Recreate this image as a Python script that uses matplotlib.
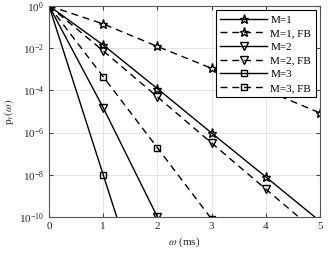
import numpy as np
import matplotlib
matplotlib.use("Agg")
import matplotlib.pyplot as plt

plt.rcParams['font.family'] = ['Liberation Serif', 'DejaVu Serif']
plt.rcParams['mathtext.fontset'] = 'stix'

# values (log-scale y)
x_m1 = [0, 1, 2, 3, 4, 5]
m1 = [1.0, 1.4e-2, 1.2e-4, 9.5e-7, 7.9e-9, 6.3e-11]
x_m1fb = [0, 1, 2, 3, 4, 5]
m1fb = [1.0, 1.4e-1, 1.2e-2, 1.1e-3, 1.0e-4, 8.5e-6]
x_m2 = [0, 1, 2]
m2 = [1.0, 1.5e-5, 1.0e-10]
x_m2fb = [0, 1, 2, 3, 4, 5]
m2fb = [1.0, 7.4e-3, 4.9e-5, 3.2e-7, 2.1e-9, 1.4e-11]
x_m3 = [0, 1, 2]
m3 = [1.0, 1.0e-8, 1.0e-16]
x_m3fb = [0, 1, 2, 3]
m3fb = [1.0, 4.4e-4, 1.9e-7, 8.0e-11]

labels = ['M=1', 'M=1, FB', 'M=2', 'M=2, FB', 'M=3', 'M=3, FB']

fig = plt.figure(figsize=(3.29, 2.56), dpi=100)
ax = fig.add_axes([0.149, 0.152, 0.824, 0.825])

kw = dict(color='black', lw=1.0, markerfacecolor='none',
          markeredgewidth=1.0, clip_on=True)
dash = (5, 3.5)
ax.semilogy(x_m1, m1, '-', marker='*', markersize=6.5, label=labels[0], **kw)
ax.semilogy(x_m1fb, m1fb, '--', marker='*', markersize=6.5, label=labels[1], dashes=dash, **kw)
ax.semilogy(x_m2, m2, '-', marker='v', markersize=6, label=labels[2], **kw)
ax.semilogy(x_m2fb, m2fb, '--', marker='v', markersize=6, label=labels[3], dashes=dash, **kw)
ax.semilogy(x_m3, m3, '-', marker='s', markersize=5, label=labels[4], **kw)
ax.semilogy(x_m3fb, m3fb, '--', marker='s', markersize=5, label=labels[5], dashes=dash, **kw)

ax.set_xlim(0, 5)
ax.set_ylim(1e-10, 1)
ax.set_xticks([0, 1, 2, 3, 4, 5])
ax.set_yticks([1e0, 1e-2, 1e-4, 1e-6, 1e-8, 1e-10])
ax.minorticks_off()
ax.grid(True, color='#e0e0e0', lw=0.6)
ax.tick_params(direction='in', labelsize=8, length=3, colors='#404040',
               labelcolor='#262626', top=True, right=True)
for s in ax.spines.values():
    s.set_color('#555555')
    s.set_linewidth(0.8)

ax.set_xlabel(r'$\omega$ (ms)', fontsize=8, color='#262626', labelpad=3)
ax.set_ylabel(r'p$_v(\omega)$', fontsize=8, color='#262626', labelpad=2)

leg = ax.legend(loc='upper right', fontsize=8, numpoints=1, handlelength=4.2,
                fancybox=False, framealpha=1, edgecolor='black',
                borderpad=0.4, labelspacing=0.35, handletextpad=0.3,
                borderaxespad=0.4)
leg.get_frame().set_linewidth(0.8)

fig.savefig('out.png', dpi=100)
